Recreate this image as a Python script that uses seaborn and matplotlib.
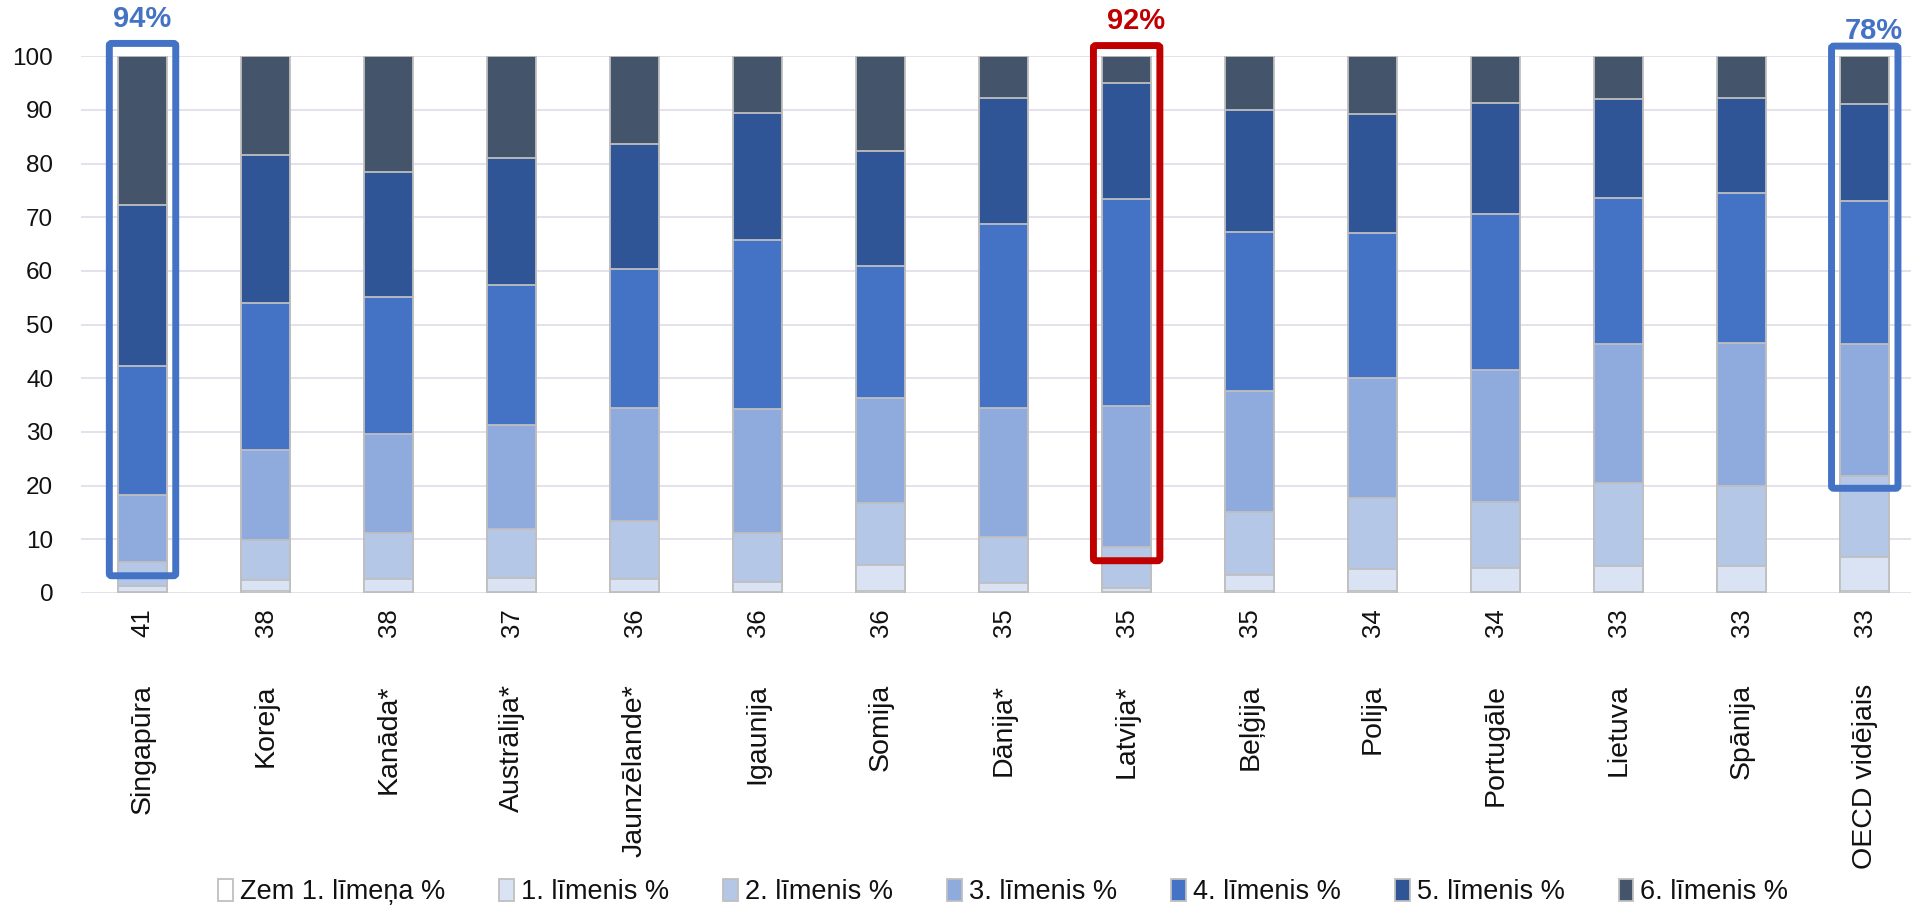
import numpy as np
import pandas as pd
import matplotlib
matplotlib.use("Agg")
import matplotlib.pyplot as plt
import seaborn as sns
from matplotlib.patches import Patch, FancyBboxPatch

# ---------------- data ----------------
countries = ["Singapūra", "Koreja", "Kanāda*", "Austrālija*", "Jaunzēlande*", "Igaunija",
             "Somija", "Dānija*", "Latvija*", "Beļģija", "Polija", "Portugāle",
             "Lietuva", "Spānija", "OECD vidējais"]
scores = ["41", "38", "38", "37", "36", "36", "36", "35", "35", "35", "34", "34", "33", "33", "33"]

levels = ["Zem 1. līmeņa %", "1. līmenis %", "2. līmenis %", "3. līmenis %",
          "4. līmenis %", "5. līmenis %", "6. līmenis %"]

below1 = [0.2, 0.3, 0.2, 0.2, 0.2, 0.1, 0.3, 0.1, 0.1, 0.3, 0.3, 0.2, 0.2, 0.2, 0.4]
lvl1   = [1.0, 2.2, 2.4, 2.5, 2.4, 1.9, 4.9, 1.7, 0.8, 3.1, 4.2, 4.4, 4.9, 4.9, 6.3]
lvl2   = [4.6, 7.4, 8.6, 9.3, 10.8, 9.1, 11.6, 8.7, 7.7, 11.6, 13.2, 12.3, 15.4, 14.8, 15.1]
lvl3   = [12.4, 16.8, 18.5, 19.2, 21.0, 23.1, 19.6, 23.9, 26.2, 22.6, 22.4, 24.6, 25.8, 26.6, 24.5]
lvl4   = [24.1, 27.4, 25.5, 26.1, 26.0, 31.6, 24.6, 34.3, 38.7, 29.7, 27.0, 29.1, 27.3, 28.1, 26.8]
lvl5   = [30.0, 27.5, 23.3, 23.7, 23.3, 23.7, 21.4, 23.5, 21.6, 22.6, 22.2, 20.7, 18.4, 17.6, 18.0]
lvl6   = [27.7, 18.4, 21.5, 19.0, 16.3, 10.5, 17.6, 7.8, 4.9, 10.1, 10.7, 8.7, 8.0, 7.8, 8.9]

# highlighted groups: (country, label text)
highlights = [("Singapūra", "94%"), ("Latvija*", "92%"), ("OECD vidējais", "78%")]

# ---------------- style ----------------
colors = ["#FFFFFF", "#DAE3F3", "#B4C7E7", "#8FAADC", "#4472C4", "#2F5597", "#44546A"]
edge = "#BFBFBF"
grid_col = "#E6E0EC"
txt_col = "#111111"

sns.set_theme(style="white")
plt.rcParams["font.family"] = ["Liberation Sans", "DejaVu Sans"]

series = [below1, lvl1, lvl2, lvl3, lvl4, lvl5, lvl6]
wide = pd.DataFrame({lv: vals for lv, vals in zip(levels, series)})
wide["country"] = countries
cum = wide[levels].cumsum(axis=1)
cum["country"] = countries
long = cum.melt(id_vars="country", var_name="level", value_name="top")

fig = plt.figure(figsize=(19.11, 9.08), dpi=100)
ax = fig.add_axes([0.0424, 0.347, 0.9576, 0.591])

# draw from the highest cumulative layer down so lower layers sit on top
for lv, col in reversed(list(zip(levels, colors))):
    sub = long[long["level"] == lv]
    sns.barplot(data=sub, x="country", y="top", order=countries, color=col,
                width=0.4, edgecolor=edge, linewidth=1.3, errorbar=None,
                saturation=1, ax=ax, zorder=2)

ax.set_ylim(0, 100)
ax.set_xlim(-0.5, 14.376)
ax.set_yticks(np.arange(0, 101, 10))
ax.yaxis.grid(True, color=grid_col, linewidth=1.4, zorder=0)
ax.set_axisbelow(True)
for s in ax.spines.values():
    s.set_visible(False)
ax.set_xlabel("")
ax.set_ylabel("")
ax.tick_params(axis="y", length=0, pad=20, labelsize=17.5, labelcolor=txt_col)
ax.set_xticks(range(len(countries)))
ax.set_xticklabels(scores, rotation=90, fontsize=18.5, color=txt_col)
ax.tick_params(axis="x", length=0, pad=11)

# country names as a second level of category labels
xform = ax.get_xaxis_transform()
for i, name in enumerate(countries):
    ax.text(i, -0.170, name, rotation=90, ha="center", va="top",
            fontsize=20.5, color=txt_col, transform=xform)

# highlight boxes and labels
box_specs = {"Singapūra": (3.2, 102.4, "#4472C4", 106.9, 0.0),
             "Latvija*": (6.0, 102.0, "#C00000", 106.6, 0.08),
             "OECD vidējais": (19.5, 101.9, "#4472C4", 104.8, 0.07)}
for cname, lab in highlights:
    i = countries.index(cname)
    y0, y1, col, ty, dx = box_specs[cname]
    rect = FancyBboxPatch((i - 0.27, y0), 0.54, y1 - y0,
                          boxstyle="round,pad=0,rounding_size=0.02",
                          fill=False, edgecolor=col, linewidth=5,
                          clip_on=False, zorder=5, mutation_aspect=20)
    ax.add_patch(rect)
    ax.text(i + dx, ty, lab, ha="center", va="center", fontsize=21,
            fontweight="bold", color=col, clip_on=False)

handles = [Patch(facecolor=c, edgecolor=edge, linewidth=1.3, label=l)
           for l, c in zip(levels, colors)]
fig.legend(handles=handles, loc="center", bbox_to_anchor=(0.525, 0.0175),
           ncol=7, frameon=False, fontsize=19.5, handlelength=0.55,
           handleheight=0.85, handletextpad=0.25, columnspacing=2.0,
           labelcolor=txt_col)

fig.savefig("out.png", dpi=100)
